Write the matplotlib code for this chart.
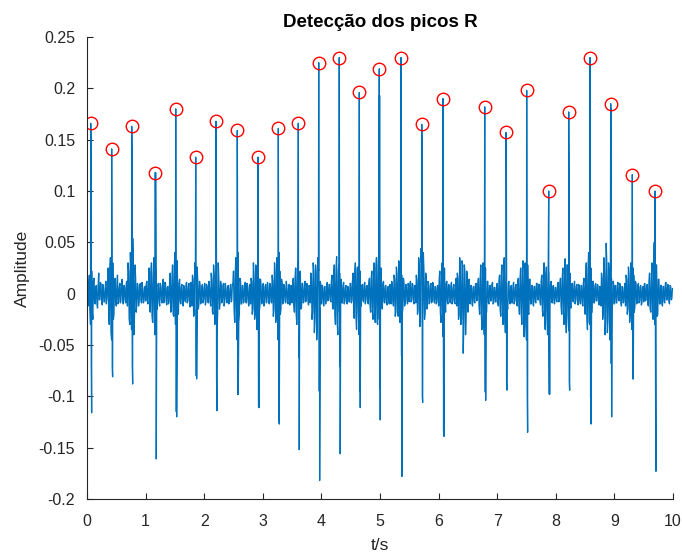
import numpy as np
import matplotlib
matplotlib.use("Agg")
import matplotlib.pyplot as plt

plt.rcParams['font.family'] = ['Liberation Sans', 'DejaVu Sans']

# ---- data ----
r_times = [0.063, 0.421, 0.763, 1.166, 1.514, 1.855, 2.201, 2.565, 2.918, 3.265,
           3.606, 3.954, 4.305, 4.647, 4.988, 5.358, 5.712, 6.075, 6.787, 7.150,
           7.503, 7.879, 8.220, 8.584, 8.937, 9.306, 9.693]
r_amps = [0.166, 0.141, 0.163, 0.118, 0.180, 0.133, 0.168, 0.159, 0.133, 0.161,
          0.166, 0.225, 0.230, 0.196, 0.219, 0.230, 0.165, 0.190, 0.182, 0.157,
          0.198, 0.100, 0.177, 0.230, 0.185, 0.116, 0.100]
r2_amps = [0.153, 0.020, 0.140, 0.118, 0.020, 0.020, 0.095, 0.020, 0.020, 0.020,
           0.020, 0.020, 0.020, 0.020, 0.193, 0.020, 0.147, 0.020, 0.020, 0.155,
           0.020, 0.020, 0.119, 0.020, 0.180, 0.020, 0.020]
s2_amps = [-0.066, -0.071, -0.070, -0.035, -0.115, -0.080, -0.081, -0.098, -0.110, -0.124,
           -0.062, -0.095, -0.071, -0.095, -0.092, -0.061, -0.100, -0.134, -0.096, -0.086,
           -0.094, -0.098, -0.085, -0.101, -0.068, -0.083, -0.104]
s_amps = [-0.116, -0.081, -0.088, -0.161, -0.120, -0.083, -0.114, -0.098, -0.111, -0.127,
          -0.152, -0.182, -0.156, -0.111, -0.123, -0.178, -0.106, -0.139, -0.104, -0.094,
          -0.135, -0.098, -0.094, -0.127, -0.120, -0.083, -0.173]
qrs_offsets = [0.0, 0.005, 0.010, 0.016]   # R, R2, S2, S offsets (s)

sample_step = 0.02
# background activity in thousandths (hand-read estimate), samples at k*0.02 s
noise_milli_a = [
    5, -12, 18, -30, 22, -25, 15, -10, 8, -14, 20, -6, 9, -11, 6, -8, 12, -5, 25, -30, 35, -45, 30, -20, 15,
    -12, 18, -8, 10, -6, 14, -10, 7, -9, 12, 30, -25, 40, -35, 54, -40, 28, -18, 10, -12, 8, -6, 11, -9, 5,
    -7, 12, -10, 25, -18, 30, -28, 35, -40, 22, -15, 10, -12, 8, -9, 14, -6, 10, -11, 7, -8, 20, -15, 28, -22,
    40, -50, 32, -20, 14, -10, 9, -12, 6, -8, 11, -7, 10, -13, 8, 18, -22, 30, -35, 26, -15, 12, -10, 7, -9,
    6, -11, 9, -7, 12, -8, 20, -18, 28, -30, 25, -40, 30, -15, 12, -9, 8, -12, 10, -6, 7, -10, 5, -8, 9,
    22, -28, 35, -45, 40, -20, 12, -10, 8, -7, 11, -9, 6, -12, 9, 15, -20, 30, -25, 28, -35, 24, -18, 14, -10,
    8, -12, 7, -9, 11, -6, 10, -8, 18, -22, 30, -28, 35, -45, 40, -20, 14, -10, 9, -7, 12, -8, 6, -11, 8,
    -9, 15, -18, 25, -30, 32, -40, 22, -14, 10, -8, 12, -7, 9, -11, 6, 20, -25, 30, -38, 28, -45, 35, -20, 12,
    -10, 8, -12, 7, -9, 11, -6, 9, -8, 18, -15, 28, -30, 36, -40, 30, -22, 14, -9, 11, -7, 8, -10, 6, -8,
    10, -7, 20, -24, 30, -35, 26, -40, 22, -12, 9, -8, 11, -6, 8, -10, 15, -18, 22, -25, 30, -28, 35, -30, 40,
    -38, 25, -15, 12, -9, 8, -11, 7, -10, 6, 12, -8, 18, -22, 26, -18, 32, -28, 30, -20, 15, -12, 9, -7, 10,
    -8, 12, -6, 9, -10, 7, 18, -20, 35, -32, 44, -38, 40, -25, 20, -15, 12, -10, 8, -9, 11, -6, 7, -10, 8,
    -12, 22, -28, 30, -42, 25, -18, 12, -10, 8, -9, 11, -7, 9, -10, 15, 20, -25, 35, -30, 32, -58, 28, -40, 22,
    -18, 14, -10, 8, -12, 7, -9, 10, -6, 15, -20, 28, -35, 30, -40, 25, -18, 12, -10, 8, -7, 11, -9, 6, -8,
    10, -12, 18, -22, 28, -30, 35, -38, 22, -15, 12, -10, 8, -9, 11, -7, 9, -12, 15, -20, 25, -30, 32, -42, 30,
    -45, 28, -20, 14, -10, 8, -12, 7, -9, 10, -6, 9, -11, 18, -22, 30, -35, 26, -40, 22, -15, 12, -9, 8, -10,
    6, -8, 11, -7, 15, -20, 25, -30, 34, -38, 28, -36, 20, -14, 10, -8, 12, -6, 9, -11, 7, -10, 8, -12, 15,
    -20, 30, -35, 40, -30, 25, -18, 12, -9, 10, -7, 8, -11, 6, 20, -25, 35, -40, 49, -38, 30, -45, 22, -15, 12,
    -10, 8, -9, 11, -7, 9, -12, 6, -8, 10, 18, -20, 26, -28, 30, -35, 25, -18, 12, -10, 8, -9, 7, -11, 6,
    -8, 10, -6, 9, -12, 20, -18, 30, -25, 50, -40, 28, -20, 14, -10, 8, -12, 7, -9, 11, -6, 8, -10, 7, -5,
]
# samples half-way between, at k*0.02 + 0.01 s
noise_milli_b = [
    -8, 10, -15, 20, -18, 12, -9, 7, -10, 8, -6, 11, -7, 9, -8, 5, -10, 12, -20, 25, -38, 28, -25, 12, -9,
    8, -10, 6, -9, 11, -7, 8, -6, 10, -12, 22, -30, 25, -20, 30, -22, 15, -10, 8, -7, 10, -9, 6, -8, 7,
    9, -8, 12, -15, 20, -22, 18, -25, 20, -12, 9, -8, 10, -6, 8, -9, 11, -7, 6, -10, 12, -18, 15, -20, 25,
    -30, 22, -14, 10, -8, 7, -9, 8, -6, 10, -9, 7, -8, 11, -12, 14, -20, 18, -15, 12, -10, 8, -7, 9, -6,
    10, -8, 7, -9, 6, -12, 14, -20, 18, -22, 20, -18, 14, -10, 8, -7, 10, -8, 6, -9, 8, -6, 9, -7, 10,
    -15, 20, -25, 22, -28, 15, -10, 8, -9, 7, -8, 10, -7, 8, -10, 12, -15, 18, -20, 22, -18, 15, -12, 9, -8,
    10, -7, 9, -8, 6, -10, 8, -9, 12, -15, 20, -22, 25, -30, 22, -15, 10, -8, 7, -9, 8, -10, 9, -6, 7,
    10, -12, 15, -20, 22, -25, 18, -15, 10, -9, 7, -8, 10, -6, 8, -9, 14, -18, 22, -25, 20, -28, 22, -14, 9,
    8, -9, 6, -10, 8, -7, 9, -6, 12, -14, 18, -20, 25, -28, 22, -18, 12, -9, 8, -10, 6, -9, 7, -8, 10,
    -9, 12, -15, 20, -22, 25, -20, 18, -10, 8, -7, 9, -10, 7, -8, 11, -12, 15, -18, 20, -22, 25, -28, 30, -25,
    20, -12, 10, -8, 7, -9, 6, -8, 9, -10, 7, -12, 14, -18, 20, -22, 25, -20, 18, -14, 10, -9, 8, -10, 7,
    9, -8, 10, -7, 8, -9, 12, -15, 25, -28, 30, -25, 22, -18, 14, -10, 9, -8, 10, -7, 8, -9, 6, -8, 7,
    14, -18, 20, -25, 18, -14, 10, -8, 9, -7, 8, -10, 6, -9, 8, -12, 15, -20, 22, -25, 28, -30, 20, -22, 15,
    12, -9, 8, -10, 6, -8, 9, -7, 10, -12, 15, -20, 22, -25, 20, -18, 12, -9, 8, -7, 9, -10, 6, -8, 7,
    -9, 12, -15, 18, -20, 22, -25, 18, -12, 10, -8, 7, -9, 8, -10, 6, -8, 10, -12, 15, -18, 22, -25, 28, -30,
    22, -18, 14, -10, 8, -9, 7, -8, 10, -6, 9, -8, 12, -15, 20, -22, 18, -25, 20, -14, 10, -8, 7, -9, 6,
    -7, 9, -8, 10, -12, 15, -18, 22, -25, 28, -22, 18, -12, 9, -7, 8, -10, 7, -8, 9, -6, 8, -9, 10, -12,
    15, -20, 25, -28, 22, -18, 12, -9, 8, -7, 9, -8, 7, -12, 15, -18, 22, -28, 30, -25, 22, -28, 15, -10, 8,
    7, -9, 8, -6, 10, -8, 7, -9, 6, -12, 14, -15, 18, -20, 22, -25, 18, -12, 9, -8, 10, -7, 8, -9, 7,
    9, -7, 8, -10, 12, -15, 14, -20, 22, -30, 28, -22, 14, -10, 8, -9, 7, -8, 10, -6, 9, -7, 8, -6, 5,
]

title_text = "Detecção dos picos R"
x_label = "t/s"
y_label = "Amplitude"
x_ticks = [0, 1, 2, 3, 4, 5, 6, 7, 8, 9, 10]
y_ticks = [-0.2, -0.15, -0.1, -0.05, 0, 0.05, 0.1, 0.15, 0.2, 0.25]
y_ticklabels = ["-0.2", "-0.15", "-0.1", "-0.05", "0", "0.05", "0.1", "0.15", "0.2", "0.25"]

# ---- build signal ----
k = np.arange(len(noise_milli_a))
t_list = list(k * sample_step) + list(k * sample_step + sample_step / 2)
v_list = [v / 1000.0 for v in noise_milli_a] + [v / 1000.0 for v in noise_milli_b]
for tr, a, a2, b2, b in zip(r_times, r_amps, r2_amps, s2_amps, s_amps):
    for off, val in zip(qrs_offsets, [a, a2, b2, b]):
        t_list.append(tr + off)
        v_list.append(val)
order = np.argsort(t_list, kind="stable")
t_sig = np.asarray(t_list)[order]
v_sig = np.asarray(v_list)[order]

# ---- plot ----
fig = plt.figure(figsize=(6.82, 5.58), dpi=100)
ax = fig.add_axes([87 / 682, 1 - 499 / 558, 586 / 682, 462 / 558])
line_color = "#0072BD"
axis_color = "#262626"
ax.plot(t_sig, v_sig, color=line_color, lw=0.95)
ax.plot(r_times, r_amps, 'o', ms=9, mfc='none', mec='red', mew=1.0)

ax.set_xlim(0, 10)
ax.set_ylim(-0.2, 0.25)
ax.set_xticks(x_ticks)
ax.set_xticklabels([str(v) for v in x_ticks])
ax.set_yticks(y_ticks)
ax.set_yticklabels(y_ticklabels)
for s in ["top", "right"]:
    ax.spines[s].set_visible(False)
for s in ["left", "bottom"]:
    ax.spines[s].set_color(axis_color)
    ax.spines[s].set_linewidth(0.8)
ax.tick_params(direction="in", length=4, width=0.8, colors=axis_color, labelsize=11.5)
ax.tick_params(axis="x", pad=10.5)
ax.tick_params(axis="y", pad=8.5)
ax.set_title(title_text, fontsize=13.5, fontweight="bold", color="black", pad=7)
ax.set_xlabel(x_label, fontsize=12.5, color=axis_color, labelpad=7)
ax.set_ylabel(y_label, fontsize=12.5, color=axis_color, labelpad=6)

fig.savefig("out.png", dpi=100)
